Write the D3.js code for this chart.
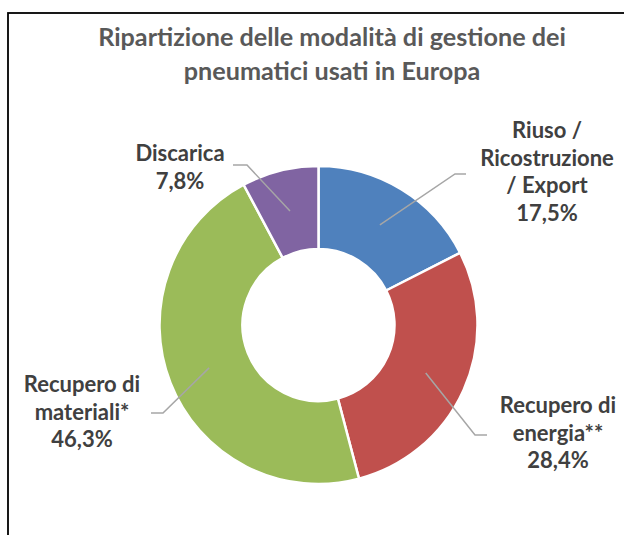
<!DOCTYPE html>
<html>
<head>
<meta charset="utf-8">
<script src="https://cdn.jsdelivr.net/npm/d3@7"></script>
<style>
  html, body { margin: 0; padding: 0; background: #fff; }
  svg { display: block; }
</style>
</head>
<body>
<div id="chart"></div>
<script>
const width = 624;
const height = 535;

const titleLines = ["Ripartizione delle modalità di gestione dei", "pneumatici usati in Europa"];
const categories = ["Riuso / Ricostruzione / Export", "Recupero di energia**", "Recupero di materiali*", "Discarica"];
const labelLines = [["Riuso /", "Ricostruzione", "/ Export"], ["Recupero di", "energia**"], ["Recupero di", "materiali*"], ["Discarica"]];
const values = [17.5, 28.4, 46.3, 7.8];
const colors = ["#4F81BD", "#C0504D", "#9BBB59", "#8064A2"];

// where each label sits: leader elbow, leader end, text centre x, first baseline
const labelLayout = [
  { elbow: [455, 174], end: [466, 174], x: 547, y: 138 },
  { elbow: [475, 435], end: [487, 435], x: 558, y: 413 },
  { elbow: [163, 413], end: [151, 413], x: 82, y: 392 },
  { elbow: [247, 165], end: [233, 165], x: 180, y: 161 }
];

const cx = 318.5, cy = 325;
const outerR = 159, innerR = 76;
const lineH = 27.5;
const fmt = v => d3.format(".1f")(v).replace(".", ",") + "%";

const svg = d3.select("#chart")
  .append("svg")
  .attr("width", width)
  .attr("height", height);

// chart border (runs off the right/bottom edge like the original)
svg.append("rect")
  .attr("x", 8)
  .attr("y", 13)
  .attr("width", width + 20)
  .attr("height", height + 20)
  .attr("fill", "#fff")
  .attr("stroke", "#000")
  .attr("stroke-width", 1.8);

svg.append("text")
  .attr("text-anchor", "middle")
  .style("font-family", "Lato, 'Open Sans', sans-serif")
  .style("font-weight", "bold")
  .style("font-size", "25.2px")
  .attr("fill", "#595959")
  .selectAll("tspan")
  .data(titleLines)
  .enter()
  .append("tspan")
  .attr("x", 332)
  .attr("y", (d, i) => 46 + i * 34)
  .text(d => d);

const pie = d3.pie().sort(null).value(d => d);
const arcs = pie(values);
const arc = d3.arc().innerRadius(innerR).outerRadius(outerR);

const g = svg.append("g").attr("transform", `translate(${cx},${cy})`);

g.selectAll("path.slice")
  .data(arcs)
  .enter()
  .append("path")
  .attr("class", "slice")
  .attr("d", arc)
  .attr("fill", (d, i) => colors[i])
  .attr("stroke", "#fff")
  .attr("stroke-width", 2.5)
  .attr("stroke-linejoin", "round");

// leader lines from slice centroid
svg.selectAll("polyline.leader")
  .data(arcs)
  .enter()
  .append("polyline")
  .attr("class", "leader")
  .attr("fill", "none")
  .attr("stroke", "#A6A6A6")
  .attr("stroke-width", 1.5)
  .attr("points", (d, i) => {
    const c = arc.centroid(d);
    const L = labelLayout[i];
    return [[cx + c[0], cy + c[1]], L.elbow, L.end].map(p => p.join(",")).join(" ");
  });

const labels = svg.selectAll("text.label")
  .data(arcs)
  .enter()
  .append("text")
  .attr("class", "label")
  .attr("text-anchor", "middle")
  .style("font-family", "Lato, 'Open Sans', sans-serif")
  .style("font-weight", "bold")
  .style("font-size", "22px")
  .attr("fill", "#404040");

labels.each(function(d, i) {
  const lines = labelLines[i].concat([fmt(values[i])]);
  d3.select(this).selectAll("tspan")
    .data(lines)
    .enter()
    .append("tspan")
    .attr("x", labelLayout[i].x)
    .attr("y", (t, j) => labelLayout[i].y + j * lineH)
    .text(t => t);
});
</script>
</body>
</html>
